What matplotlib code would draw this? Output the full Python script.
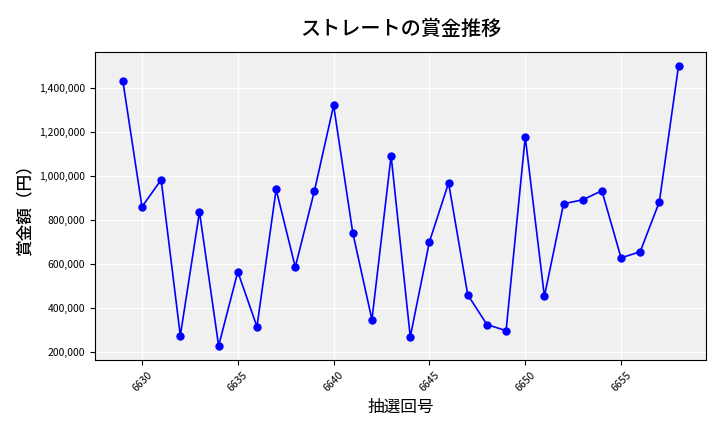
import matplotlib
matplotlib.use("Agg")
import matplotlib.pyplot as plt
from matplotlib.ticker import FuncFormatter

plt.rcParams['font.family'] = ['Noto Sans CJK JP', 'DejaVu Sans']

draws = list(range(6629, 6659))
prizes = [1432000, 859000, 982000, 273000, 836000, 227000, 564000, 314000,
          938000, 585000, 932000, 1320000, 741000, 346000, 1091000, 268000,
          700000, 968000, 459000, 324000, 296000, 1177000, 452000, 873000,
          891000, 932000, 627000, 655000, 882000, 1500000]

fig, ax = plt.subplots(figsize=(7.2, 4.32), dpi=100)
fig.subplots_adjust(left=0.132, right=0.981, top=0.88, bottom=0.167)
ax.set_facecolor('#f0f0f0')
ax.grid(True, color='white', linewidth=0.9)
ax.set_axisbelow(True)

ax.plot(draws, prizes, color='blue', marker='o', markersize=5, linewidth=1.2)

ax.set_title('ストレートの賞金推移', fontsize=14.5, fontweight='medium', pad=12)
ax.set_xlabel('抽選回号', fontsize=12)
ax.set_ylabel('賞金額（円）', fontsize=12, fontweight='medium')
ax.yaxis.set_major_formatter(FuncFormatter(lambda v, p: f'{int(v):,}'))
ax.tick_params(axis='both', labelsize=7.5)
plt.setp(ax.get_xticklabels(), rotation=45)

plt.savefig('out.png')
